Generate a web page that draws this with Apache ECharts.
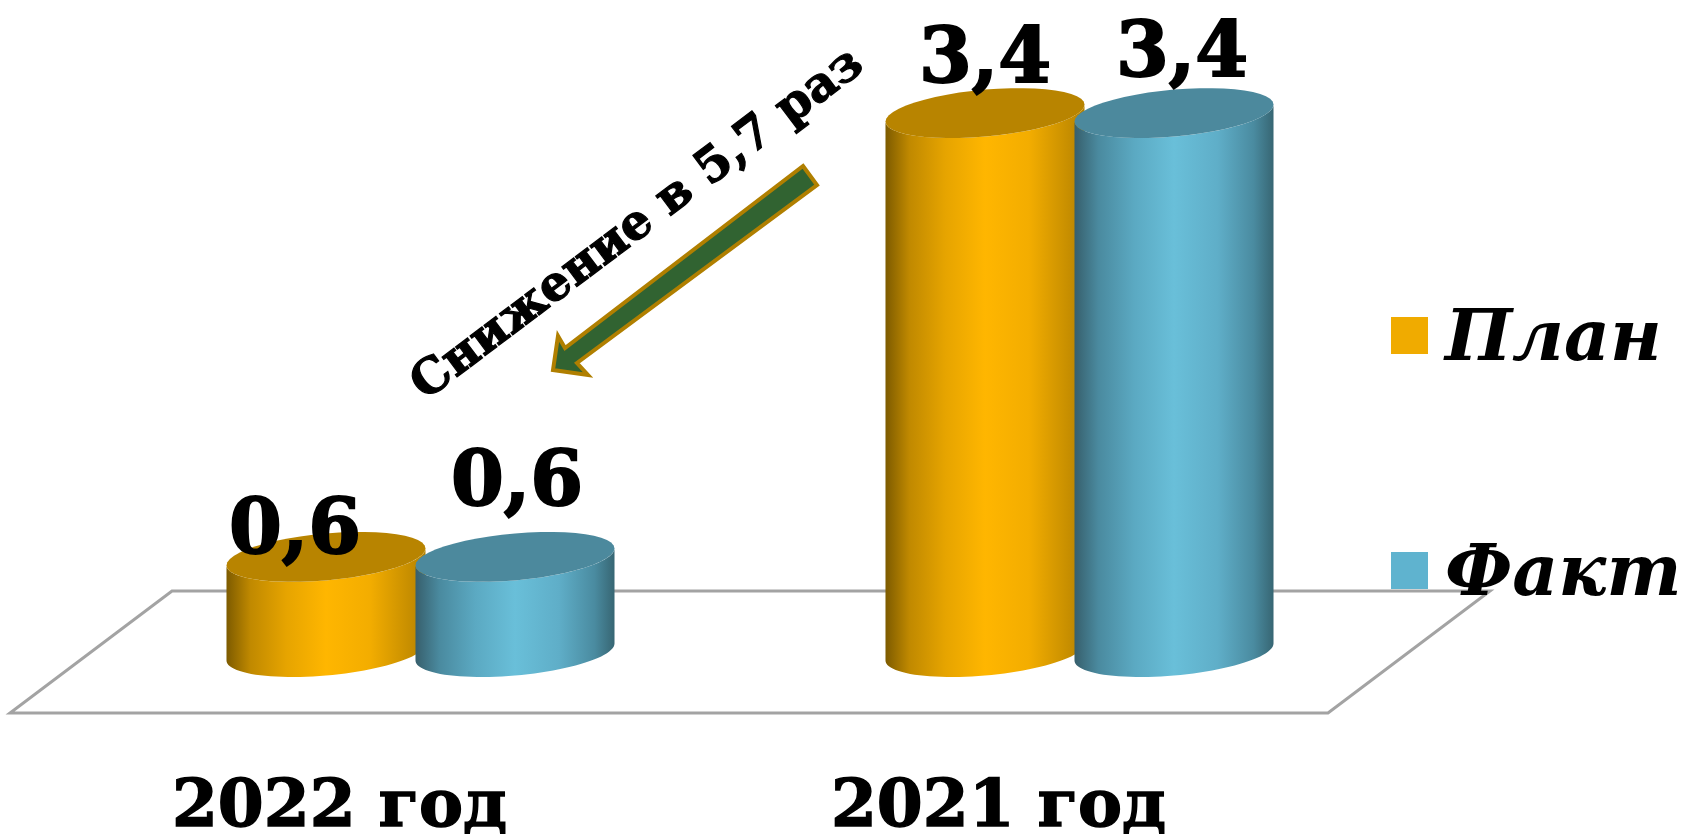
<!DOCTYPE html>
<html>
<head>
<meta charset="utf-8">
<style>html,body{margin:0;padding:0;background:#fff}#c{width:1691px;height:834px}</style>
<script src="https://cdn.jsdelivr.net/npm/echarts@6/dist/echarts.min.js"></script>
</head>
<body>
<div id="c"></div>
<script>
const categories = ['2022 год', '2021 год'];
const planValues = [0.6, 3.4];
const factValues = [0.6, 3.4];
const seriesNames = ['План', 'Факт'];
const annotationText = 'Снижение в 5,7 раз';

const SERIF = '"DejaVu Serif", serif';
const DEPTH_X = 81, DEPTH_Y = 61;        // perspective shift of the bars' plane
const SLOT = 0.1434, HALF_W = 0.151;     // as fractions of a category band
const TILT = 8.5, MINOR = 23.5;          // shape of the sheared ellipse

const plan = {
  side: [[0, '#7d5b00'], [0.12, '#c08900'], [0.3, '#e6a400'], [0.5, '#ffb600'], [0.72, '#f3ad00'], [1, '#b58200']],
  top: '#b88400', slot: -1, labelShift: [[-31, -24], [0, -51]]
};
const fact = {
  side: [[0, '#375f6c'], [0.12, '#4a8a9f'], [0.3, '#5ba9c2'], [0.5, '#69bfd9'], [0.72, '#5faec8'], [0.9, '#4a8ba0'], [1, '#376673']],
  top: '#4c899d', slot: 1, labelShift: [[2, -72], [8, -57]]
};

function ellipseArc(cx, cy, a, from, to) {
  const pts = [], n = 48;
  for (let i = 0; i <= n; i++) {
    const t = from + (to - from) * i / n;
    pts.push([cx + a * Math.cos(t), cy - TILT * Math.cos(t) + MINOR * Math.sin(t)]);
  }
  return pts;
}

function cylinderRenderer(style) {
  return function (params, api) {
    const idx = api.value(0), val = api.value(1);
    const band = api.size([1, 0])[0];
    const base = api.coord([idx, 0]), tip = api.coord([idx, val]);
    const a = band * HALF_W;
    const cx = base[0] + DEPTH_X + style.slot * band * SLOT;
    const yBase = base[1] - DEPTH_Y, yTop = tip[1] - DEPTH_Y;
    const front = ellipseArc(cx, yBase, a, Math.PI, 0);
    const frontTop = ellipseArc(cx, yTop, a, 0, Math.PI);
    const whole = ellipseArc(cx, yTop, a, 0, Math.PI * 2);
    const sh = style.labelShift[idx];
    return {
      type: 'group',
      children: [
        { type: 'polygon', shape: { points: front.concat(frontTop) },
          style: { fill: new echarts.graphic.LinearGradient(0, 0, 1, 0,
            style.side.map(s => ({ offset: s[0], color: s[1] }))) } },
        { type: 'polygon', shape: { points: whole }, style: { fill: style.top } },
        { type: 'text', x: cx + sh[0], y: yTop + sh[1], z2: 10,
          style: { text: String(val).replace('.', ','), x: 0, y: 0, align: 'center', verticalAlign: 'middle',
            font: 'bold 76px ' + SERIF, fill: '#000', stroke: '#000', lineWidth: 2 } }
      ]
    };
  };
}

function floorRenderer(params) {
  const g = params.coordSys;
  const left = g.x, right = g.x + g.width, y = g.y + g.height;
  return {
    type: 'polygon',
    shape: { points: [[left, y], [right, y], [right + 2 * DEPTH_X, y - 2 * DEPTH_Y], [left + 2 * DEPTH_X, y - 2 * DEPTH_Y]] },
    style: { fill: 'none', stroke: '#a3a3a3', lineWidth: 3 }
  };
}

const chart = echarts.init(document.getElementById('c'), null, { renderer: 'canvas' });
chart.setOption({
  animation: false,
  backgroundColor: '#fff',
  grid: { left: 10, right: 363, top: 79, bottom: 121, containLabel: false, outerBoundsMode: 'none' },
  xAxis: {
    type: 'category', data: categories,
    axisLine: { show: false }, axisTick: { show: false }, splitLine: { show: false },
    axisLabel: { margin: 63, fontFamily: SERIF, fontWeight: 'bold', fontSize: 66, color: '#000', interval: 0,
      textBorderColor: '#000', textBorderWidth: 1.5 }
  },
  yAxis: { type: 'value', min: 0, max: 4, show: false },
  legend: {
    data: seriesNames, orient: 'vertical', left: 1386, top: 301,
    icon: 'path://M0 0H37V37H0Z M0 49L37 49', itemWidth: 37, itemHeight: 49, itemGap: 164, selectedMode: false,
    textStyle: { fontFamily: SERIF, fontWeight: 'bold', fontStyle: 'italic', fontSize: 71, lineHeight: 68, color: '#000', padding: [0, 0, 0, 12] }
  },
  series: [
    { type: 'custom', name: 'floor', silent: true, z: 1, renderItem: floorRenderer, data: [[0, 0]], encode: { x: 0, y: 1 } },
    { type: 'custom', name: seriesNames[0], z: 2, renderItem: cylinderRenderer(plan),
      itemStyle: { color: '#f0ab00' }, encode: { x: 0, y: 1 }, data: planValues.map((v, i) => [i, v]) },
    { type: 'custom', name: seriesNames[1], z: 3, renderItem: cylinderRenderer(fact),
      itemStyle: { color: '#5fb3cf' }, encode: { x: 0, y: 1 }, data: factValues.map((v, i) => [i, v]) }
  ],
  graphic: [
    { type: 'text', x: 638, y: 225, rotation: 37 * Math.PI / 180, z: 20,
      style: { text: annotationText, x: 0, y: 0, align: 'center', verticalAlign: 'middle', font: 'bold 48px ' + SERIF, fill: '#000', stroke: '#000', lineWidth: 1.2 } },
    { type: 'polygon', z: 20,
      shape: { points: [[803, 166], [817, 185], [577, 363], [588, 375], [553, 370], [558, 336], [565, 348]] },
      style: { fill: '#316331', stroke: '#b07f00', lineWidth: 4 } }
  ]
});
</script>
</body>
</html>
